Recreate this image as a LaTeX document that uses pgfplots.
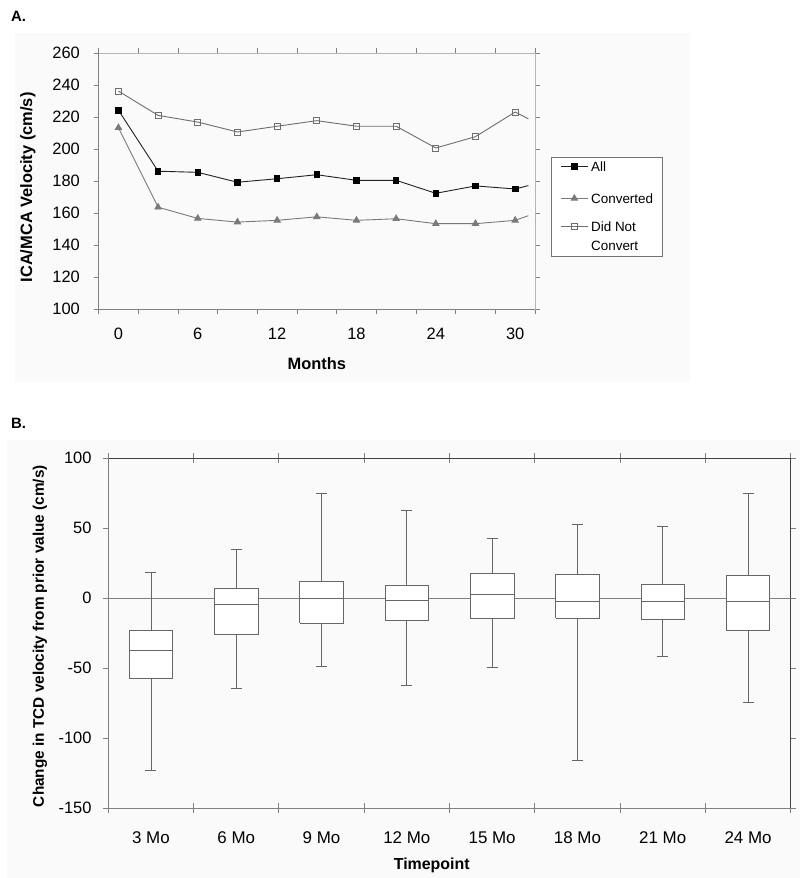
\documentclass[border=0pt]{standalone}
\usepackage{fontspec}
\setmainfont{Liberation Sans}
\usepackage{pgfplots}
\pgfplotsset{compat=1.18}
\definecolor{axdark}{HTML}{808080}
\definecolor{axlight}{HTML}{B4B4B4}
\definecolor{allc}{HTML}{222222}
\definecolor{convc}{HTML}{7A7A7A}
\definecolor{dncc}{HTML}{6E6E6E}
\definecolor{boxc}{HTML}{666666}
\begin{document}
\begin{tikzpicture}
\useasboundingbox (0bp,0bp) rectangle (800bp,878bp);
\fill[black!2] (15bp,496bp) rectangle (690bp,845bp);
\fill[black!2] (7bp,0bp) rectangle (800bp,438bp);
\node[anchor=west,inner sep=0pt,font=\fontsize{15}{18}\selectfont\bfseries] at (11bp,861.3bp) {A.};
\node[anchor=west,inner sep=0pt,font=\fontsize{15}{18}\selectfont\bfseries] at (11bp,454.7bp) {B.};

% ---------------- Panel A ----------------
\begin{axis}[
  at={(98.6bp,568.7bp)}, anchor=south west,
  scale only axis, width=436.4bp, height=256bp,
  xmin=-1.5, xmax=31.5, ymin=100, ymax=260,
  xtick={0,6,...,30}, minor xtick={-1.5,1.5,...,31.5},
  ytick={100,120,...,260},
  tick align=outside, major tick length=5bp, minor tick length=5bp,
  every major x tick/.append style={draw=none},
  tick style={axdark, line width=0.8bp},
  axis line style={axlight, line width=0.8bp},
  /pgf/number format/assume math mode=true,
  ticklabel style={font=\fontsize{16.5}{19}\selectfont},
  xticklabel style={anchor=center, inner sep=0pt, yshift=-19.5bp},
  yticklabel style={anchor=east, inner sep=0pt, xshift=-13.6bp},
  xlabel={Months}, ylabel={ICA/MCA Velocity (cm/s)},
  label style={font=\fontsize{16.5}{19}\selectfont\bfseries},
  xlabel style={at={(axis description cs:0.5,-0.212)}, anchor=center, inner sep=0pt},
  ylabel style={at={(axis description cs:-0.162,0.476)}, anchor=center, inner sep=0pt},
  legend style={at={(axis description cs:1.036,0.596)}, anchor=north west,
    draw=black!55, line width=0.8bp, fill=white,
    font=\fontsize{13.5}{16}\selectfont,
    inner xsep=9bp, inner ysep=0.9bp, row sep=5.34bp,
    nodes={inner sep=0pt},
    /tikz/every odd column/.append style={column sep=2.5bp}},
  legend cell align=left,
  legend image code/.code={\draw[#1, mark indices={2}] plot coordinates {(0bp,0bp) (13.8bp,0bp) (27.6bp,0bp)};},
  after end axis/.code={\draw[axdark, line width=0.8bp] (rel axis cs:0,1) -- (rel axis cs:0,0) -- (rel axis cs:1,0);},
]
\addplot[allc, line width=0.9bp, mark=square*, mark size=2.8bp, mark options={solid, fill=black, draw=black}, mark indices={1,...,11}]
  coordinates {(0,224.4) (3,186.3) (6,185.6) (9,179.4) (12,181.6) (15,184.1) (18,180.6) (21,180.6) (24,172.5) (27,177.1) (30,175.2) (31,177.3)};
\addlegendentry[text height=13.26bp, text depth=3.6bp]{All}
\addplot[convc, line width=0.9bp, mark=triangle*, mark size=3.6bp, mark options={solid, fill=convc, draw=convc}, mark indices={1,...,11}]
  coordinates {(0,213.5) (3,163.8) (6,156.8) (9,154.5) (12,155.6) (15,157.8) (18,155.6) (21,156.6) (24,153.5) (27,153.5) (30,155.6) (31,158.5)};
\addlegendentry[text height=23.06bp, text depth=13.4bp]{Converted}
\addplot[dncc, line width=0.9bp, mark=square, mark size=3bp, mark options={solid, fill=white, draw=dncc}, mark indices={1,...,11}]
  coordinates {(0,236.4) (3,221.2) (6,217.0) (9,210.8) (12,214.4) (15,217.9) (18,214.4) (21,214.4) (24,200.8) (27,207.9) (30,223.3) (31,219.0)};
\addlegendentry[text height=9.66bp, text depth=0bp]{Did Not}
\addlegendimage{empty legend}
\addlegendentry[text height=13.96bp, text depth=4.3bp]{Convert}
\end{axis}

% ---------------- Panel B ----------------
\begin{axis}[
  at={(108.3bp,69.7bp)}, anchor=south west,
  scale only axis, width=682.4bp, height=350bp,
  xmin=0.5, xmax=8.5, ymin=-150, ymax=100,
  xtick={1,...,8},
  xticklabels={3 Mo,6 Mo,9 Mo,12 Mo,15 Mo,18 Mo,21 Mo,24 Mo},
  minor xtick={0.5,1.5,...,8.5},
  ytick={-150,-100,...,100},
  xtick align=center, ytick align=outside,
  major tick length=5bp, minor tick length=10bp,
  every major x tick/.append style={draw=none},
  tick style={axdark, line width=0.8bp},
  axis line style={black!75, line width=0.8bp},
  /pgf/number format/assume math mode=true,
  xticklabel style={font=\fontsize{17}{20}\selectfont, anchor=center, inner sep=0pt, yshift=-27bp},
  yticklabel style={font=\fontsize{16.5}{19}\selectfont, anchor=east, inner sep=0pt, xshift=-11.6bp},
  xlabel={Timepoint}, ylabel={Change in TCD velocity from prior value (cm/s)},
  xlabel style={font=\fontsize{16}{19}\selectfont\bfseries, at={(axis description cs:0.474,-0.162)}, anchor=center, inner sep=0pt},
  ylabel style={font=\fontsize{15.4}{18}\selectfont\bfseries, at={(axis description cs:-0.100,0.492)}, anchor=center, inner sep=0pt},
  after end axis/.code={\draw[axdark, line width=0.8bp] (rel axis cs:0,1) -- (rel axis cs:0,0) -- (rel axis cs:1,0);},
  every axis plot/.append style={line width=0.8bp, line join=miter},
]
% zero reference line
\addplot[axdark] coordinates {(0.5,0) (8.5,0)};
% whiskers with caps: upper (Q3 -> max) and lower (Q1 -> min)
\addplot[boxc, unbounded coords=jump] coordinates {
 (1,-23.1) (1,18.8) (1,nan) (0.935,18.8) (1.065,18.8) (1,nan) (1,-57.1) (1,-122.6) (1,nan) (0.935,-122.6) (1.065,-122.6) (1,nan)
 (2,6.9) (2,35.0) (2,nan) (1.935,35.0) (2.065,35.0) (2,nan) (2,-25.7) (2,-64.3) (2,nan) (1.935,-64.3) (2.065,-64.3) (2,nan)
 (3,11.9) (3,75.2) (3,nan) (2.935,75.2) (3.065,75.2) (3,nan) (3,-17.9) (3,-48.4) (3,nan) (2.935,-48.4) (3.065,-48.4) (3,nan)
 (4,9.5) (4,63.1) (4,nan) (3.935,63.1) (4.065,63.1) (4,nan) (4,-16.0) (4,-62.4) (4,nan) (3.935,-62.4) (4.065,-62.4) (4,nan)
 (5,17.6) (5,43.1) (5,nan) (4.935,43.1) (5.065,43.1) (5,nan) (5,-14.6) (5,-49.1) (5,nan) (4.935,-49.1) (5.065,-49.1) (5,nan)
 (6,17.1) (6,53.1) (6,nan) (5.935,53.1) (6.065,53.1) (6,nan) (6,-14.1) (6,-115.5) (6,nan) (5.935,-115.5) (6.065,-115.5) (6,nan)
 (7,10.0) (7,51.4) (7,nan) (6.935,51.4) (7.065,51.4) (7,nan) (7,-15.0) (7,-41.2) (7,nan) (6.935,-41.2) (7.065,-41.2) (7,nan)
 (8,16.1) (8,75.2) (8,nan) (7.935,75.2) (8.065,75.2) (8,nan) (8,-23.1) (8,-74.1) (8,nan) (7.935,-74.1) (8.065,-74.1)
};
% boxes: Q1 to Q3, white fill
\addplot[boxc, fill=white] coordinates {(0.745,-57.1) (1.255,-57.1) (1.255,-23.1) (0.745,-23.1) (0.745,-57.1)};
\addplot[boxc, fill=white] coordinates {(1.745,-25.7) (2.255,-25.7) (2.255,6.9) (1.745,6.9) (1.745,-25.7)};
\addplot[boxc, fill=white] coordinates {(2.745,-17.9) (3.255,-17.9) (3.255,11.9) (2.745,11.9) (2.745,-17.9)};
\addplot[boxc, fill=white] coordinates {(3.745,-16.0) (4.255,-16.0) (4.255,9.5) (3.745,9.5) (3.745,-16.0)};
\addplot[boxc, fill=white] coordinates {(4.745,-14.6) (5.255,-14.6) (5.255,17.6) (4.745,17.6) (4.745,-14.6)};
\addplot[boxc, fill=white] coordinates {(5.745,-14.1) (6.255,-14.1) (6.255,17.1) (5.745,17.1) (5.745,-14.1)};
\addplot[boxc, fill=white] coordinates {(6.745,-15.0) (7.255,-15.0) (7.255,10.0) (6.745,10.0) (6.745,-15.0)};
\addplot[boxc, fill=white] coordinates {(7.745,-23.1) (8.255,-23.1) (8.255,16.1) (7.745,16.1) (7.745,-23.1)};
% medians
\addplot[boxc, unbounded coords=jump] coordinates {
 (0.745,-36.9) (1.255,-36.9) (1,nan) (1.745,-4.3) (2.255,-4.3) (2,nan) (2.745,0.0) (3.255,0.0) (3,nan) (3.745,-1.4) (4.255,-1.4) (4,nan)
 (4.745,2.9) (5.255,2.9) (5,nan) (5.745,-1.9) (6.255,-1.9) (6,nan) (6.745,-1.9) (7.255,-1.9) (7,nan) (7.745,-1.9) (8.255,-1.9)
};
\end{axis}
\end{tikzpicture}
\end{document}
